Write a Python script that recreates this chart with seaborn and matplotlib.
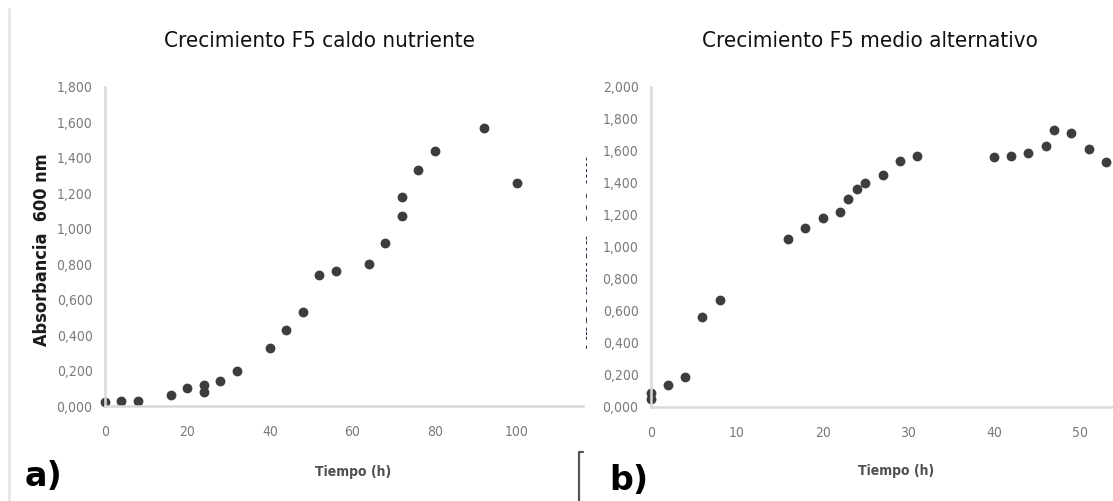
import matplotlib
matplotlib.use("Agg")
import matplotlib.pyplot as plt
import seaborn as sns
import pandas as pd
from matplotlib.ticker import FuncFormatter, MultipleLocator
from matplotlib.transforms import Bbox, TransformedBbox
from matplotlib.lines import Line2D

# Crecimiento F5 caldo nutriente
t_caldo = [0, 4, 8, 16, 20, 24, 24, 28, 32, 40, 44, 48, 52, 56, 64, 68, 72, 72, 76, 80, 92, 100]
abs_caldo = [0.02, 0.03, 0.03, 0.06, 0.10, 0.12, 0.08, 0.14, 0.20, 0.33, 0.43, 0.53,
             0.74, 0.76, 0.80, 0.92, 1.07, 1.18, 1.33, 1.44, 1.57, 1.26]

# Crecimiento F5 medio alternativo
t_alt = [0, 0, 2, 4, 6, 8, 16, 18, 20, 22, 23, 24, 25, 27, 29, 31, 40, 42, 44, 46, 47, 49, 51, 53]
abs_alt = [0.05, 0.09, 0.14, 0.19, 0.56, 0.67, 1.05, 1.12, 1.18, 1.22, 1.30, 1.36,
           1.40, 1.45, 1.54, 1.57, 1.56, 1.57, 1.59, 1.63, 1.73, 1.71, 1.61, 1.53]

titles = ["Crecimiento F5 caldo nutriente", "Crecimiento F5 medio alternativo"]
xlabel = "Tiempo (h)"
ylabel = "Absorbancia  600 nm"
panel_tags = ["a)", "b)"]

sns.set_style("white")
plt.rcParams["font.family"] = ["DejaVu Sans"]
plt.rcParams["font.stretch"] = "condensed"

W, H = 1113, 501
fig = plt.figure(figsize=(W / 100, H / 100), dpi=100)


def px_axes(x0, y_top, x1, y_bot):
    return fig.add_axes([x0 / W, 1 - y_bot / H, (x1 - x0) / W, (y_bot - y_top) / H])


comma = FuncFormatter(lambda v, _: f"{v:.3f}".replace(".", ","))
grey_axis = "#d9d9d9"
dot = "#3d3d3d"

ax1 = px_axes(105, 87, 583, 406)
ax2 = px_axes(651, 87, 1113, 407)

df1 = pd.DataFrame({"t": t_caldo, "a": abs_caldo})
df2 = pd.DataFrame({"t": t_alt, "a": abs_alt})
sns.scatterplot(data=df1, x="t", y="a", ax=ax1, color=dot, s=50, linewidth=0, clip_on=False)
sns.scatterplot(data=df2, x="t", y="a", ax=ax2, color=dot, s=50, linewidth=0, clip_on=False)

ax1.set_xlim(0, 116)
ax1.set_ylim(0, 1.8)
ax1.xaxis.set_major_locator(MultipleLocator(20))
ax2.set_xlim(0, 53.85)
ax2.set_ylim(0, 2.0)
ax2.xaxis.set_major_locator(MultipleLocator(10))

for ax in (ax1, ax2):
    ax.yaxis.set_major_locator(MultipleLocator(0.2))
    ax.yaxis.set_major_formatter(comma)
    for side in ("top", "right"):
        ax.spines[side].set_visible(False)
    for side in ("left", "bottom"):
        ax.spines[side].set_color(grey_axis)
        ax.spines[side].set_linewidth(1.8)
    ax.tick_params(axis="y", length=0, pad=9, labelsize=10, labelcolor="#7a7a7a")
    ax.tick_params(axis="x", length=0, pad=14, labelsize=10, labelcolor="#7a7a7a")
    ax.set_xlabel(xlabel, fontsize=10, color="#505050", fontweight="bold", va="center")
    ax.set_ylabel("")

ax1.xaxis.set_label_coords(0.52, -0.207)
ax2.xaxis.set_label_coords(0.53, -0.20)

# y label of the left chart
ax1.set_ylabel(ylabel, fontsize=13, fontweight="bold", color="#1a1a1a", va="center")
ax1.yaxis.set_label_coords(-0.132, 0.49)

# the right chart's y label is cut off, only its edge shows
cut = fig.text(592 / W, 1 - 252 / H, ylabel, rotation=90, ha="right", va="center",
               fontsize=13, fontweight="bold", color="#1a2a4a")
cut.set_clip_box(TransformedBbox(Bbox.from_extents(586 / W, 0, 590 / W, 1), fig.transFigure))
cut.set_clip_on(True)

# titles and panel tags
fig.text(320 / W, 1 - 41 / H, titles[0], ha="center", va="center", fontsize=16, color="#111111")
fig.text(870 / W, 1 - 41 / H, titles[1], ha="center", va="center", fontsize=16, color="#111111")
fig.text(44 / W, 1 - 476 / H, panel_tags[0], ha="center", va="center", fontsize=24,
         fontweight="bold", color="black", stretch="normal")
fig.text(629 / W, 1 - 480 / H, panel_tags[1], ha="center", va="center", fontsize=24,
         fontweight="bold", color="black", stretch="normal")

# frame leftovers from the screenshots
fig.add_artist(Line2D([9 / W, 9 / W], [0, 1 - 9 / H], transform=fig.transFigure,
                      color="#e6e6e6", lw=2))
fig.add_artist(Line2D([583 / W, 579 / W, 579 / W], [1 - 452 / H, 1 - 452 / H, 0],
                      transform=fig.transFigure, color="#555555", lw=1.6))

fig.savefig("out.png", dpi=100)
